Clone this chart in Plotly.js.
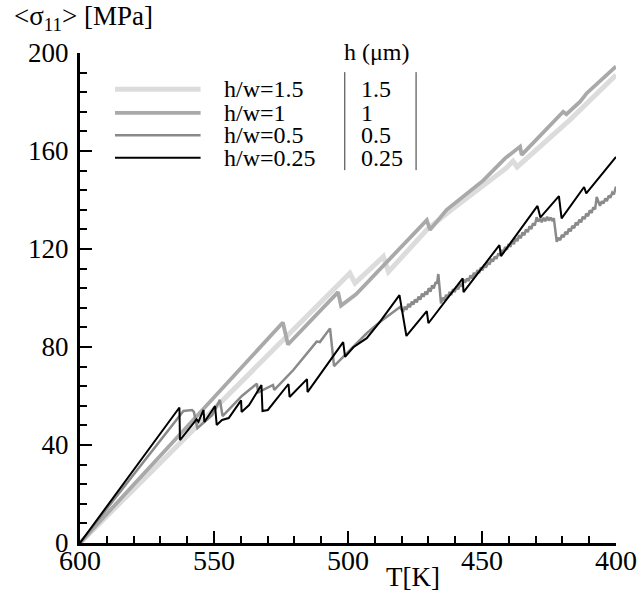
<!DOCTYPE html>
<html>
<head>
<meta charset="utf-8">
<script src="https://cdn.plot.ly/plotly-3.0.1.min.js"></script>
<style>html,body{margin:0;padding:0;background:#fff;}#chart{width:637px;height:592px;}</style>
</head>
<body>
<div id="chart"></div>
<script>
// ---- data ----
const seriesNames = ["h/w=1.5", "h/w=1", "h/w=0.5", "h/w=0.25"];
const hValues = ["1.5", "1", "0.5", "0.25"];
const xTicks = [600, 550, 500, 450, 400];
const yTicks = [0, 40, 80, 120, 160, 200];

const T_hw15 = [600, 499.3, 497.4, 486.8, 484.9, 470.6, 462.0, 450.0, 441.0, 438.4, 436.9, 417.2, 406.6, 400];
const S_hw15 = [0, 110.1, 106.1, 116.9, 110.7, 127.8, 135.5, 145.5, 153.0, 155.9, 153.5, 172.7, 183.6, 191.0];

const T_hw1 = [600, 524.3, 522.4, 503.7, 502.6, 500.0, 497.0, 470.6, 469.4, 463.2, 449.5, 441.4, 435.8, 435.2, 419.7, 418.5, 413.4, 410.9, 400];
const S_hw1 = [0, 90.0, 81.0, 102.4, 96.9, 99.0, 101.5, 131.8, 127.8, 136.0, 148.0, 157.0, 161.8, 158.4, 176.0, 175.0, 180.1, 183.6, 194.5];

const T_hw05 = [600, 561.4, 558.2, 557.5, 556.2, 550.7, 547.8, 546.8, 539.6, 534.0, 533.5, 528.0, 527.5, 520.4, 511.7, 510.5, 506.7, 505.2, 501.8, 493.0, 488.1, 480.6,
  479.5, 478.8, 478.2, 477.5, 476.9, 476.2, 475.6, 475.0, 474.3, 473.7, 473.0, 472.4, 471.8, 471.1, 470.5, 469.9, 469.2, 468.6, 468.0, 467.3, 466.8, 466.3,
  465.3, 464.6, 464.0, 463.4, 462.8, 462.1, 461.5, 460.8, 460.2, 459.5, 458.9, 458.2, 457.6, 456.9, 456.3, 455.6, 455.0, 454.3, 453.7, 453.0, 452.4, 451.7, 451.1, 450.4, 449.8, 449.1, 448.5, 447.8, 447.2, 446.5, 445.9, 445.2, 444.6, 443.9, 443.3,
  442.7, 442.0, 441.4, 440.7, 440.1, 439.4, 438.8, 438.1, 437.5, 436.8, 436.2, 435.5, 434.9, 434.2, 433.6, 432.9, 432.3, 431.6, 431.0, 430.3, 429.6, 429.0, 428.3, 427.7, 427.0, 426.4, 425.7, 425.1, 424.4, 423.8, 423.2, 422.1,
  421.5, 420.8, 420.2, 419.5, 418.9, 418.2, 417.6, 416.9, 416.3, 415.6, 415.0, 414.3, 413.7, 413.0, 412.4, 411.7, 411.1, 410.4, 409.8, 409.1, 408.5, 407.8, 407.2, 406.0, 405.3, 404.7, 404.0, 403.4, 402.7, 402.1, 401.4, 400.8, 400.0];
const S_hw05 = [0, 53.9, 54.3, 53.5, 46.9, 52.2, 58.4, 51.8, 60.0, 65.0, 61.5, 64.5, 62.5, 70.6, 82.2, 82.0, 87.6, 72.2, 76.0, 85.6, 90.2, 96.3,
  94.3, 96.5, 95.2, 97.6, 96.2, 98.5, 97.3, 99.4, 98.2, 100.6, 99.3, 101.8, 100.5, 102.6, 101.4, 104.0, 102.6, 105.2, 103.9, 106.5, 105.8, 109.8,
  97.8, 100.2, 99.0, 101.3, 100.1, 102.5, 101.2, 103.6, 102.4, 104.6, 103.5, 105.8, 104.6, 107.5, 106.2, 108.0, 106.9, 109.2, 108.0, 110.3, 109.2, 111.4, 110.2, 112.5, 111.3, 113.6, 112.4, 114.6, 113.6, 116.0, 114.9, 117.0, 116.0, 118.2, 117.3,
  119.6, 118.5, 120.8, 119.7, 122.0, 120.9, 123.2, 122.0, 124.4, 123.2, 125.6, 124.4, 126.8, 125.6, 128.0, 126.9, 129.3, 128.1, 130.5, 129.6, 133.0, 131.2, 132.4, 130.9, 132.8, 131.3, 133.2, 131.6, 132.9, 131.4, 132.6, 122.9,
  124.6, 123.6, 125.8, 124.8, 127.0, 126.0, 128.3, 127.2, 129.5, 128.5, 130.8, 129.7, 132.0, 130.9, 133.2, 132.2, 134.5, 133.4, 135.8, 134.7, 137.0, 136.2, 141.3, 137.6, 139.5, 138.5, 140.6, 139.6, 141.8, 140.9, 143.0, 142.3, 145.5];

const T_hw025 = [600, 562.9, 562.7, 556.5, 555.8, 553.9, 553.6, 549.6, 549.0, 547.0, 544.5, 539.9, 539.7, 536.9, 532.3, 531.9, 529.9, 522.2, 521.8, 515.3, 515.1, 501.8, 501.1, 498.0, 493.0, 488.1, 480.8, 478.2, 470.6, 470.0, 457.2, 456.9, 443.5, 442.9, 429.3, 428.2, 421.3, 420.3, 411.9, 411.1, 400];
const S_hw025 = [0, 55.3, 42.0, 50.5, 49.5, 54.3, 49.4, 55.9, 48.2, 50.2, 51.0, 58.2, 53.5, 56.3, 64.5, 53.9, 54.3, 64.9, 59.6, 66.9, 61.6, 82.0, 76.0, 79.9, 83.6, 90.3, 101.2, 84.5, 94.6, 89.7, 108.0, 102.4, 121.6, 117.1, 137.6, 132.9, 141.6, 132.5, 145.3, 142.7, 157.6];

// ---- styles ----
const colors = ["#dcdcdc", "#a9a9a9", "#8a8a8a", "#000000"];
const widths = [5, 3.8, 2.5, 2];
const serif = "Liberation Serif";

const xs = [T_hw15, T_hw1, T_hw05, T_hw025];
const ys = [S_hw15, S_hw1, S_hw05, S_hw025];

const traces = xs.map((x, i) => ({
  type: "scatter", mode: "lines", x: x, y: ys[i], name: seriesNames[i],
  line: {color: colors[i], width: widths[i]}, showlegend: false
}));

// legend drawn by hand (two-column box as in the original)
const legX0 = 0.0653, legX1 = 0.225, legLabelX = 0.266, legValX = 0.522;
const legRows = [0.926, 0.878, 0.832, 0.786];
const shapes = [];
const annotations = [];
legRows.forEach((yy, i) => {
  shapes.push({type: "line", xref: "paper", yref: "paper", x0: legX0, x1: legX1, y0: yy, y1: yy,
    line: {color: colors[i], width: widths[i]}});
  annotations.push({xref: "paper", yref: "paper", x: legLabelX, y: yy, xanchor: "left", yanchor: "middle",
    height: 22, valign: "middle", borderpad: 0,
    text: seriesNames[i], showarrow: false, font: {family: serif, size: 24, color: "#000"}});
  annotations.push({xref: "paper", yref: "paper", x: legValX, y: yy, xanchor: "left", yanchor: "middle",
    height: 22, valign: "middle", borderpad: 0,
    text: hValues[i], showarrow: false, font: {family: serif, size: 24, color: "#000"}});
});
shapes.push({type: "line", xref: "paper", yref: "paper", x0: 0.494, x1: 0.494, y0: 0.761, y1: 0.961, line: {color: "#333", width: 1}});
shapes.push({type: "line", xref: "paper", yref: "paper", x0: 0.627, x1: 0.627, y0: 0.761, y1: 0.961, line: {color: "#333", width: 1}});
annotations.push({xref: "paper", yref: "paper", x: 0.555, y: 1.002, xanchor: "center", yanchor: "middle",
  text: "h (μm)", showarrow: false, font: {family: serif, size: 24, color: "#000"}});
// y-axis title (top-left) and x-axis title
annotations.push({xref: "paper", yref: "paper", x: -0.127, y: 1.071, xanchor: "left", yanchor: "middle",
  text: "&lt;σ<sub>11</sub>&gt; [MPa]", showarrow: false, font: {family: serif, size: 27, color: "#000"}});
annotations.push({xref: "paper", yref: "paper", x: 0.621, y: -0.069, xanchor: "center", yanchor: "middle",
  text: "T[K]", showarrow: false, font: {family: serif, size: 27, color: "#000"}});

const axisCommon = {
  showline: true, linecolor: "#000", linewidth: 3, mirror: false,
  ticks: "inside", ticklen: 12, tickwidth: 2.5, tickcolor: "#000",
  showgrid: false, zeroline: false
};

const layout = {
  width: 637, height: 592,
  margin: {l: 80, r: 21, t: 53, b: 49},
  paper_bgcolor: "#fff", plot_bgcolor: "#fff",
  font: {family: serif, color: "#000"},
  showlegend: false,
  xaxis: Object.assign({}, axisCommon, {
    range: [600, 400], tickmode: "array", tickvals: xTicks, ticktext: xTicks.map(String),
    tickfont: {family: serif, size: 28, color: "#000"}, ticklabelstandoff: -10,
    minor: {ticks: "inside", ticklen: 7, tickwidth: 2, tickcolor: "#000", dtick: 10, tick0: 400, showgrid: false}
  }),
  yaxis: Object.assign({}, axisCommon, {
    range: [0, 200], tickmode: "array", tickvals: yTicks, ticktext: yTicks.map(String),
    tickfont: {family: serif, size: 27, color: "#000"}, ticklabelstandoff: 3,
    minor: {ticks: "inside", ticklen: 7, tickwidth: 2, tickcolor: "#000", dtick: 8, tick0: 0, showgrid: false}
  }),
  shapes: shapes,
  annotations: annotations
};

Plotly.newPlot("chart", traces, layout, {staticPlot: true, displayModeBar: false});
</script>
</body>
</html>
